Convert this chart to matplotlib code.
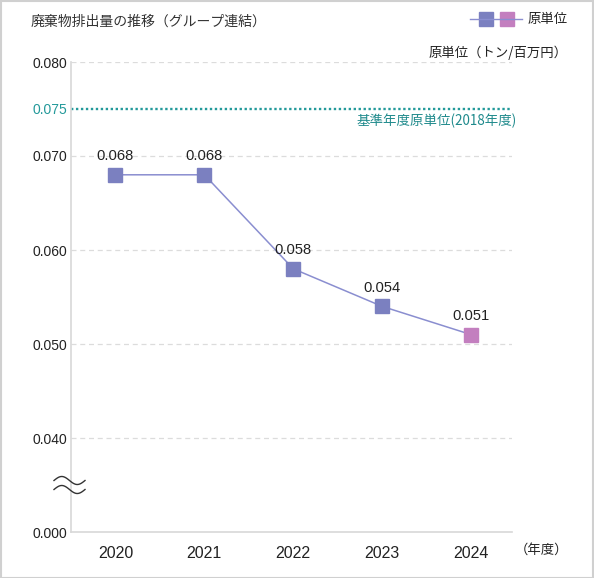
import matplotlib
matplotlib.use("Agg")
import numpy as np
import matplotlib.pyplot as plt
from matplotlib.patches import Rectangle
from matplotlib.lines import Line2D

plt.rcParams['font.family'] = ['Noto Sans CJK JP', 'DejaVu Sans']
NUM_FONT = ['Liberation Sans', 'DejaVu Sans']

years = ["2020", "2021", "2022", "2023", "2024"]
values = [0.068, 0.068, 0.058, 0.054, 0.051]
value_labels = ["0.068", "0.068", "0.058", "0.054", "0.051"]
marker_colors = ["#7b80c0", "#7b80c0", "#7b80c0", "#7b80c0", "#c37fbf"]
baseline_value = 0.075
ytick_values = [0.030, 0.040, 0.050, 0.060, 0.070, 0.080]
ytick_labels = ["0.000", "0.040", "0.050", "0.060", "0.070", "0.080"]

W, H = 594, 578
fig = plt.figure(figsize=(W / 100, H / 100), dpi=100)
ax = fig.add_axes([71 / W, 46 / H, 441 / W, 470 / H])

x = list(range(len(years)))
ax.plot(x, values, color="#8a8ed0", lw=1.1, zorder=2)
for xi, v, c, lab in zip(x, values, marker_colors, value_labels):
    ax.plot(xi, v, marker="s", ms=10.2, color=c, mec=c, zorder=3, linestyle="none")
    ax.annotate(lab, (xi, v), xytext=(0, 10.5), textcoords="offset points",
                ha="center", va="baseline", fontsize=10.6, color="#222222",
                family=NUM_FONT)

ax.set_xlim(-0.5, 4.46)
ax.set_ylim(0.030, 0.080)
ax.set_xticks(x)
ax.set_xticklabels(years, fontsize=11.5, color="#222222", family=NUM_FONT)

for t in ytick_values[1:]:
    ax.axhline(t, color="#dcdcdc", lw=0.9, ls=(0, (4, 3)), zorder=1)

ax.axhline(baseline_value, color="#23999a", lw=1.7, ls=(0, (1, 1.1)), zorder=1)
ax.text(1.0 + 5 / 441, baseline_value - 0.0005, "基準年度原単位(2018年度)",
        transform=ax.get_yaxis_transform(), ha="right", va="top",
        fontsize=9.7, color="#1f8a8c")

yt = list(ytick_values) + [baseline_value]
ax.set_yticks(yt)
ax.set_yticklabels(ytick_labels + ["0.075"], fontsize=10, color="#222222", family=NUM_FONT)
ax.get_yticklabels()[-1].set_color("#23999a")
ax.tick_params(axis="y", length=0, pad=3)
ax.tick_params(axis="x", length=0, pad=10)

for s in ["top", "right"]:
    ax.spines[s].set_visible(False)
for s in ["left", "bottom"]:
    ax.spines[s].set_color("#d8d8d8")
    ax.spines[s].set_linewidth(1.2)

# break mark (two waves) drawn in figure pixel space
t = np.linspace(0, 1, 60)
for dy in (-4.5, 4.5):
    xs = (54 + 31 * t) / W
    ys = 1 - (485 + dy - 4 * np.sin(2 * np.pi * t)) / H
    fig.add_artist(Line2D(xs, ys, color="#333333", lw=1.0, transform=fig.transFigure))

# figure texts
fig.text(31 / W, 1 - 22 / H, "廃棄物排出量の推移（グループ連結）", ha="left", va="center",
         fontsize=10, color="#333333")
fig.text(568 / W, 1 - 53 / H, "原単位（トン/百万円）", ha="right", va="center",
         fontsize=9.6, color="#222222")
fig.text(568 / W, 1 - 550 / H, "（年度）", ha="right", va="center",
         fontsize=9.6, color="#222222")

# legend
fig.add_artist(Line2D([470 / W, 522 / W], [1 - 19 / H, 1 - 19 / H], color="#8a8ed0", lw=1,
                      transform=fig.transFigure))
fig.add_artist(Rectangle((479 / W, 1 - 26 / H), 14 / W, 14 / H, color="#7b80c0",
                         transform=fig.transFigure))
fig.add_artist(Rectangle((500 / W, 1 - 26 / H), 14 / W, 14 / H, color="#c37fbf",
                         transform=fig.transFigure))
fig.text(528 / W, 1 - 19 / H, "原単位", ha="left", va="center", fontsize=9.6, color="#222222")

# border
fig.add_artist(Rectangle((0.5 / W, 0.5 / H), (W - 1.5) / W, (H - 1.5) / H, fill=False,
                         edgecolor="#d0d0d0", lw=1.5, transform=fig.transFigure))

fig.savefig("out.png", dpi=100)
